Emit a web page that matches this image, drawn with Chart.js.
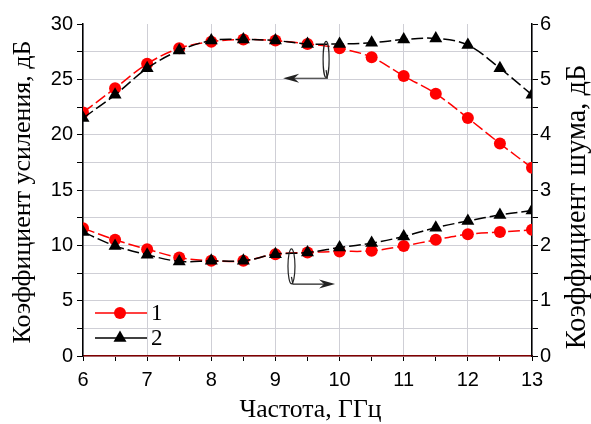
<!DOCTYPE html>
<html>
<head>
<meta charset="utf-8">
<script src="https://cdn.jsdelivr.net/npm/chart.js@4.4.1/dist/chart.umd.min.js"></script>
<style>
  html, body { margin: 0; padding: 0; background: #fff; }
  #wrap { width: 591px; height: 424px; }
</style>
</head>
<body>
<div id="wrap"><canvas id="c" width="591" height="424"></canvas></div>
<script>
// frequency, GHz
var freq = [6, 6.5, 7, 7.5, 8, 8.5, 9, 9.5, 10, 10.5, 11, 11.5, 12, 12.5, 13];
// gain, dB (left axis)
var gain1 = [22.0, 24.2, 26.4, 27.8, 28.4, 28.6, 28.5, 28.2, 27.8, 27.0, 25.3, 23.7, 21.5, 19.2, 17.0];
var gain2 = [21.5, 23.6, 26.0, 27.6, 28.5, 28.6, 28.5, 28.2, 28.2, 28.3, 28.6, 28.7, 28.1, 26.0, 23.6];
// noise figure, dB (right axis)
var noise1 = [2.31, 2.10, 1.93, 1.78, 1.72, 1.72, 1.84, 1.87, 1.89, 1.90, 1.99, 2.10, 2.20, 2.24, 2.28];
var noise2 = [2.24, 1.99, 1.83, 1.71, 1.72, 1.72, 1.84, 1.87, 1.96, 2.04, 2.16, 2.32, 2.44, 2.55, 2.63];
var seriesNames = ['1', '2'];
var xTitle = 'Частота, ГГц';
var leftTitle = 'Коэффициент усиления, дБ';
var rightTitle = 'Коэффициент шума, дБ';

var RED = '#ff0000', BLACK = '#000000';
var SANS = '"Liberation Sans", Arial, sans-serif';
var SERIF = '"Liberation Serif", "Times New Roman", serif';

function pts(ys) {
    return freq.map(function (x, i) { return { x: x, y: ys[i] }; });
}

function ds(label, ys, axis, color, shape, order) {
    return {
        label: label, data: pts(ys), yAxisID: axis,
        borderColor: color, backgroundColor: color,
        borderWidth: 1.5, borderDash: [12, 4],
        pointStyle: shape, pointRadius: shape === 'triangle' ? 7.5 : 6,
        pointBorderWidth: 0, tension: 0.35, order: order
    };
}

// ellipses with arrows, pointing to the axis of each pair of curves
var callouts = [
    { cx: 9.79, cy: 26.8, rx: 3, ry: 18, fromY: 25.1, toX: 9.12 },
    { cx: 9.25, cy: 8.1, rx: 3.5, ry: 17.5, fromY: 6.5, toX: 9.93 }
];

var calloutPlugin = {
    id: 'callouts',
    afterDatasetsDraw: function (chart) {
        var ctx = chart.ctx, xs = chart.scales.x, ys = chart.scales.y;
        ctx.save();
        ctx.strokeStyle = '#222';
        ctx.fillStyle = '#222';
        ctx.lineWidth = 1.2;
        callouts.forEach(function (c) {
            var cx = xs.getPixelForValue(c.cx), cy = ys.getPixelForValue(c.cy);
            ctx.beginPath();
            ctx.ellipse(cx, cy, c.rx, c.ry, 0, 0, Math.PI * 2);
            ctx.stroke();
            var y0 = ys.getPixelForValue(c.fromY);
            var x1 = xs.getPixelForValue(c.toX);
            var x0 = cx + c.rx * 0.4;
            var dir = x1 < x0 ? -1 : 1;
            ctx.beginPath();
            ctx.moveTo(cx, cy + c.ry * 0.6);
            ctx.lineTo(x0, y0);
            ctx.lineTo(x1 - dir * 8, y0);
            ctx.stroke();
            ctx.beginPath();
            ctx.moveTo(x1, y0);
            ctx.lineTo(x1 - dir * 16, y0 - 4.5);
            ctx.lineTo(x1 - dir * 11, y0);
            ctx.lineTo(x1 - dir * 16, y0 + 4.5);
            ctx.closePath();
            ctx.fill();
        });
        ctx.restore();
    }
};

// text drawn at a size that gives it the wanted length
function fitText(ctx, text, len, cx, cy, rot) {
    ctx.save();
    ctx.font = '20px ' + SERIF;
    var size = 20 * len / ctx.measureText(text).width;
    ctx.font = size.toFixed(1) + 'px ' + SERIF;
    ctx.translate(cx, cy);
    ctx.rotate(rot);
    ctx.fillStyle = '#000';
    ctx.textAlign = 'center';
    ctx.textBaseline = 'middle';
    ctx.fillText(text, 0, 0);
    ctx.restore();
}

// legend: line with marker, serif number; and the three axis titles
var legendPlugin = {
    id: 'lineLegend',
    afterDraw: function (chart) {
        var ctx = chart.ctx, area = chart.chartArea;
        var items = [chart.data.datasets[0], chart.data.datasets[1]];
        ctx.save();
        items.forEach(function (d, i) {
            var y = area.bottom - 43 + i * 25;
            var x0 = area.left + 12, x1 = area.left + 64, xm = area.left + 37;
            ctx.strokeStyle = d.borderColor;
            ctx.fillStyle = d.backgroundColor;
            ctx.lineWidth = 1.5;
            ctx.setLineDash([]);
            ctx.beginPath();
            ctx.moveTo(x0, y); ctx.lineTo(x1, y);
            ctx.stroke();
            Chart.helpers.drawPoint(ctx, { pointStyle: d.pointStyle, radius: d.pointRadius, borderWidth: 0 }, xm, y);
            ctx.fillStyle = '#000';
            ctx.font = '23px ' + SERIF;
            ctx.textBaseline = 'middle';
            ctx.fillText(seriesNames[i], x1 + 4, y + 1);
        });
        ctx.restore();
        var mid = (area.top + area.bottom) / 2;
        fitText(ctx, leftTitle, 303, 23, mid + 2, -Math.PI / 2);
        fitText(ctx, rightTitle, 285, 578, mid + 17, -Math.PI / 2);
        fitText(ctx, xTitle, 142, (area.left + area.right) / 2 + 3, 410, 0);
    }
};

new Chart(document.getElementById('c'), {
    type: 'line',
    data: {
        datasets: [
            ds(seriesNames[0], gain1, 'y', RED, 'circle', 2),
            ds(seriesNames[1], gain2, 'y', BLACK, 'triangle', 1),
            ds(seriesNames[0], noise1, 'y2', RED, 'circle', 2),
            ds(seriesNames[1], noise2, 'y2', BLACK, 'triangle', 1)
        ]
    },
    options: {
        responsive: false,
        animation: false,
        layout: { padding: { top: 24, left: 0, right: 0, bottom: 0 } },
        plugins: { legend: { display: false }, tooltip: { enabled: false } },
        scales: {
            x: {
                type: 'linear', min: 6, max: 13,
                afterFit: function (s) { s.height = 68; },
                ticks: {
                    stepSize: 0.5, autoSkip: false, padding: 7, color: '#000',
                    font: { family: SANS, size: 20 },
                    callback: function (v) { return v % 1 === 0 ? v : ''; }
                },
                grid: {
                    tickLength: 5, tickColor: '#000',
                    color: function (c) { return c.tick && c.tick.value % 1 === 0 ? '#cfcfd6' : 'rgba(0,0,0,0)'; }
                },
                border: { color: '#800000', width: 1.5 }
            },
            y: {
                position: 'left', min: 0, max: 30,
                afterFit: function (s) { s.width = 83; },
                ticks: {
                    stepSize: 2.5, autoSkip: false, padding: 4, color: '#000',
                    font: { family: SANS, size: 20 },
                    callback: function (v) { return v % 5 === 0 ? v : ''; }
                },
                grid: {
                    tickLength: 6, tickColor: '#000',
                    color: function (c) { return c.tick && c.tick.value === 30 ? 'rgba(0,0,0,0)' : '#cfcfd6'; }
                },
                border: { color: '#000', width: 1.5 }
            },
            y2: {
                position: 'right', min: 0, max: 6,
                afterFit: function (s) { s.width = 59; },
                ticks: {
                    stepSize: 0.5, autoSkip: false, padding: 2, color: '#000',
                    font: { family: SANS, size: 20 },
                    callback: function (v) { return v % 1 === 0 ? v : ''; }
                },
                grid: { drawOnChartArea: false, tickLength: 6, tickColor: '#000' },
                border: { color: '#000', width: 1.5 }
            }
        }
    },
    plugins: [calloutPlugin, legendPlugin]
});
</script>
</body>
</html>
